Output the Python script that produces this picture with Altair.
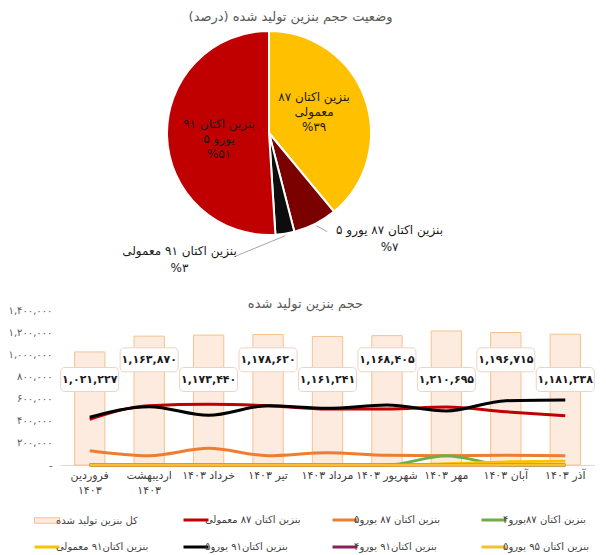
import altair as alt
import pandas as pd

FA_DIGITS = "۰۱۲۳۴۵۶۷۸۹"
FONT = "DejaVu Sans"

# ---------------- data ----------------
months = ["فروردین ۱۴۰۳", "اردیبهشت ۱۴۰۳", "خرداد ۱۴۰۳", "تیر ۱۴۰۳", "مرداد ۱۴۰۳",
          "شهریور ۱۴۰۳", "مهر ۱۴۰۳", "آبان ۱۴۰۳", "آذر ۱۴۰۳"]
total = [1021227, 1163870, 1173440, 1178620, 1161241, 1168405, 1210695, 1196715, 1181238]

oct87_regular = [413000, 536000, 548000, 536000, 506000, 506000, 524000, 481000, 445000]
oct87_euro5 = [129000, 84000, 151000, 84000, 111000, 87000, 84000, 88000, 84000]
oct87_euro4 = [0, 0, 0, 0, 0, 0, 84000, 0, 0]
oct91_regular = [0, 0, 0, 0, 0, 0, 12000, 28000, 35000]
oct91_euro5 = [431000, 527000, 449000, 536000, 512000, 542000, 488000, 581000, 587000]
oct91_euro4 = [0, 0, 0, 0, 0, 0, 0, 0, 0]
oct95_euro5 = [0, 0, 0, 0, 0, 0, 0, 0, 0]

series_names = ["کل بنزین تولید شده", "بنزین اکتان ۸۷ معمولی", "بنزین اکتان ۸۷ یورو۵",
                "بنزین اکتان ۸۷یورو۴", "بنزین اکتان۹۱ معمولی", "بنزین اکتان۹۱ یورو۵",
                "بنزین اکتان۹۱ یورو۴", "بنزین اکتان ۹۵ یورو۵"]
series_colors = ["#f5c28e", "#c00000", "#ed7d31", "#70ad47", "#ffc000", "#000000",
                 "#8a1f5f", "#f5c12e"]
line_values = [oct87_regular, oct87_euro5, oct87_euro4, oct91_regular, oct91_euro5,
               oct91_euro4, oct95_euro5]

y_ticks = [0, 200000, 400000, 600000, 800000, 1000000, 1200000, 1400000]

pie_names = ["بنزین اکتان ۸۷|معمولی", "بنزین اکتان ۸۷ یورو ۵", "بنزین اکتان ۹۱ معمولی",
             "بنزین اکتان ۹۱|یورو ۵"]
pie_share = [39, 7, 3, 51]
pie_colors = ["#ffc000", "#7b0000", "#0d0d0d", "#c00000"]

pie_title = "وضعیت حجم بنزین تولید شده (درصد)\u200f"
bar_title = "حجم بنزین تولید شده"


def fa(expr):
    for i, d in enumerate(FA_DIGITS):
        expr = f"join(split({expr}, '{i}'), '{d}')"
    return expr


df_bar = pd.DataFrame({"month": months, "total": total, "idx": list(range(len(months)))})
rows = []
for name, vals in zip(series_names[1:], line_values):
    for m, v in zip(months, vals):
        rows.append({"series": name, "month": m, "value": v})
df_lines = pd.DataFrame(rows)
df_pie = pd.DataFrame({"name": pie_names, "share": pie_share, "idx": list(range(len(pie_names)))})

PLOT_W = 535

# ---------------- pie ----------------
CX, CY, R = 209, 107, 102
pie_base = alt.Chart(df_pie)
theta = alt.Theta("share:Q", stack=True)
order = alt.Order("idx:Q")
label_expr = "split(datum.name + '|%' + " + fa("toString(datum.share)") + ", '|')"

arcs = pie_base.mark_arc(outerRadius=R, stroke="white", strokeWidth=2).encode(
    theta=theta, order=order,
    color=alt.Color("name:N", scale=alt.Scale(domain=pie_names, range=pie_colors), legend=None),
    x=alt.value(CX), y=alt.value(CY),
)


def pie_label(idx, radius, dx, dy, line_height):
    return pie_base.transform_calculate(
        lbl=f"datum.idx == {idx} ? {label_expr} : ''"
    ).mark_text(fontSize=12, color="#1a1a1a", lineHeight=line_height, baseline="middle",
                dx=dx, dy=dy).encode(
        theta=theta, order=order, radius=alt.value(radius), text="lbl:N",
        x=alt.value(CX), y=alt.value(CY),
    )


in_yellow = pie_label(0, 50, -2, -19, 15)
in_red = pie_label(3, 50, 0, -11, 15)
out1 = pie_label(1, 118, 67, -8, 17)
out2 = pie_label(2, 118, -108, 1, 17)

leaders = pie_base.transform_window(
    cum="sum(share)", sort=[alt.SortField("idx")], frame=[None, 0]
).transform_filter("datum.idx == 1 || datum.idx == 2").transform_calculate(
    mid="(datum.cum - datum.share / 2) / 100 * 2 * PI",
    x1=f"{CX} + {R + 2} * sin(datum.mid)",
    y1=f"{CY} - {R + 2} * cos(datum.mid)",
    x2="datum.x1 + (datum.idx == 1 ? 11 : -51)",
    y2="datum.y1 + (datum.idx == 1 ? 6 : 21)",
).mark_rule(color="#a6a6a6", strokeWidth=1).encode(
    x=alt.X("x1:Q", scale=None, axis=None), y=alt.Y("y1:Q", scale=None, axis=None),
    x2="x2:Q", y2="y2:Q",
)

pie = alt.layer(arcs, leaders, in_yellow, in_red, out1, out2).properties(
    width=PLOT_W, height=262,
    title=alt.TitleParams(pie_title, fontSize=13, fontWeight="normal", color="#595959",
                          anchor="middle", dx=-37, offset=2, font=FONT),
)

# ---------------- bars + lines ----------------
x_enc = alt.X(
    "month:N", sort=months,
    scale=alt.Scale(paddingInner=0.49, paddingOuter=0.245),
    axis=alt.Axis(title=None, labelAngle=0, ticks=False, tickSize=0, domainColor="#d9d9d9",
                  labelPadding=4, labelFontSize=11, labelColor="#404040", labelLineHeight=15,
                  labelExpr="indexof(datum.label, 'فروردین') == 0 || indexof(datum.label, 'اردیبهشت') == 0 ? split(datum.label, ' ') : datum.label"),
)
y_scale = alt.Scale(domain=[0, 1400000])
y_axis = alt.Axis(title=None, values=y_ticks, grid=False, domain=False, ticks=False,
                  tickSize=0, labelPadding=8, labelFontSize=10, labelColor="#595959",
                  labelOverlap=False,
                  labelExpr="datum.value == 0 ? '-' : " + fa("format(datum.value, ',')"))

bars = alt.Chart(df_bar).mark_bar(fill="#fdebe0", stroke="#f5c28e", strokeWidth=1).encode(
    x=x_enc,
    y=alt.Y("total:Q", scale=y_scale, axis=y_axis),
)

first = series_names[0]
legend = alt.Legend(
    orient="none", legendX=-18, legendY=205, direction="horizontal", columns=4, title=None,
    symbolType={"expr": f"datum.value === '{first}' ? 'M-1,-0.22H1V0.22H-1Z' : 'stroke'"},
    symbolFillColor={"expr": f"datum.value === '{first}' ? '#fdebe0' : 'transparent'"},
    symbolStrokeWidth={"expr": f"datum.value === '{first}' ? 1 : 3"},
    symbolSize=625, labelFontSize=10,
    labelColor="#404040", labelFont=FONT, labelLimit=200, columnPadding=25, rowPadding=15,
    gridAlign="all",
)

lines = alt.Chart(df_lines).mark_line(interpolate="monotone", strokeWidth=3).encode(
    x=alt.X("month:N", sort=months),
    y=alt.Y("value:Q", scale=y_scale, axis=y_axis),
    color=alt.Color("series:N", scale=alt.Scale(domain=series_names, range=series_colors),
                    legend=legend),
)

lab_base = alt.Chart(df_bar).transform_calculate(
    label_y="datum.idx % 2 == 1 ? 950000 : 772000",
    label=fa("format(datum.total, ',')"),
)
boxes = lab_base.mark_rect(width=58, height=24, cornerRadius=4, fill="white",
                           stroke="#efd3c2", strokeWidth=1).encode(
    x=alt.X("month:N", sort=months), y=alt.Y("label_y:Q", scale=y_scale, axis=y_axis),
)
texts = lab_base.mark_text(fontSize=11, fontWeight="bold", color="#1a1a1a").encode(
    x=alt.X("month:N", sort=months), y=alt.Y("label_y:Q", scale=y_scale, axis=y_axis),
    text="label:N",
)

barchart = alt.layer(bars, lines, boxes, texts).properties(
    width=PLOT_W, height=155,
    title=alt.TitleParams(bar_title, fontSize=13, fontWeight="normal", color="#595959",
                          anchor="middle", dx=-22, offset=-6, frame="group", font=FONT),
)

chart = alt.vconcat(pie, barchart, spacing=10).resolve_scale(
    color="independent"
).properties(
    padding={"top": 3, "left": 0, "right": 0, "bottom": 0}
).configure(
    font=FONT
).configure_axis(labelOverlap=False).configure_view(stroke=None)

chart.save("out.html", embed_options={"renderer": "svg", "actions": False})
